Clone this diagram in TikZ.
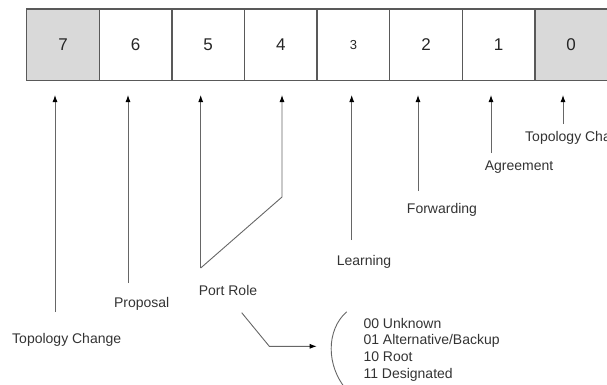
\documentclass[tikz,border=0pt]{standalone}
\usepackage{fontspec}
\setmainfont{Liberation Sans}
\usetikzlibrary{arrows.meta,positioning,calc}

\tikzset{
  bitbox/.style={draw=black!65,line width=1.3pt,outer sep=0pt,inner sep=0pt,
    minimum width=72.6pt,minimum height=71.3pt,text=black!85,
    font=\fontsize{17}{20}\selectfont},
  flagbox/.style={bitbox,fill=black!15},
  lbl/.style={inner sep=0pt,text=black!80,font=\fontsize{14}{16.7}\selectfont},
  pointer/.style={draw=black!60,line width=0.9pt,
    -{Latex[length=7pt,width=5pt,color=black]},shorten >=14.7pt},
}

\begin{document}
\begin{tikzpicture}[x=1pt,y=-1pt,node distance=0pt]
\useasboundingbox (0,0) rectangle (607,384);
% the eight bits of the flags field
\node [flagbox] at (63,44.65) (b7) {7};
\node [bitbox,right=of b7] (b6) {6};
\node [bitbox,right=of b6] (b5) {5};
\node [bitbox,right=of b5] (b4) {4};
\node [bitbox,right=of b4,font=\fontsize{13}{16}\selectfont] (b3) {3};
\node [bitbox,right=of b3] (b2) {2};
\node [bitbox,right=of b2] (b1) {1};
\node [flagbox,right=of b1] (b0) {0};

% labels
\node [lbl] at (66.7,340) (tcl) {Topology Change};
\node [lbl] at (141.7,304) (prop) {Proposal};
\node [lbl] at (228,290.7) (role) {Port Role};
\node [lbl] at (364,261.7) (learn) {Learning};
\node [lbl] at (442,210) (fwd) {Forwarding};
\node [lbl] at (519,166.7) (agr) {Agreement};
\node [lbl,anchor=west] at (525,137.7) (tcr) {Topology Change};
\node [lbl,align=left,anchor=west] at (363.3,349.7) (roles) {00 Unknown\\01 Alternative/Backup\\10 Root\\11 Designated};

% arrow feet
\coordinate (a7) at (55,312);
\coordinate (a6) at (128,283);
\coordinate (pr) at (200.7,268);
\coordinate (pr4) at (282,197);
\coordinate (a3) at (351.7,240);
\coordinate (a2) at (418,191);
\coordinate (a1) at (491,153);
\coordinate (a0) at (563,124);
\coordinate (k1) at (241.7,312.7);
\coordinate (k2) at (269.3,346.3);
\coordinate (paren) at (316.7,346.3);

\draw [pointer] (a7) -- (a7 |- b7.south);
\draw [pointer] (a6) -- (a6 |- b6.south);
\draw [pointer] (pr) -- (pr |- b5.south);
\draw [pointer] (pr) -- (pr4) -- (pr4 |- b4.south);
\draw [pointer] (a3) -- (a3 |- b3.south);
\draw [pointer] (a2) -- (a2 |- b2.south);
\draw [pointer] (a1) -- (a1 |- b1.south);
\draw [pointer] (a0) -- (a0 |- b0.south);
\draw [pointer,shorten >=0pt] (k1) -- (k2) -- (paren);

% bracket before the role list
\draw [black!60,line width=0.9pt] (346.7,311.7) .. controls (326,330) and (326,366) .. (346.7,390);

\end{tikzpicture}
\end{document}
